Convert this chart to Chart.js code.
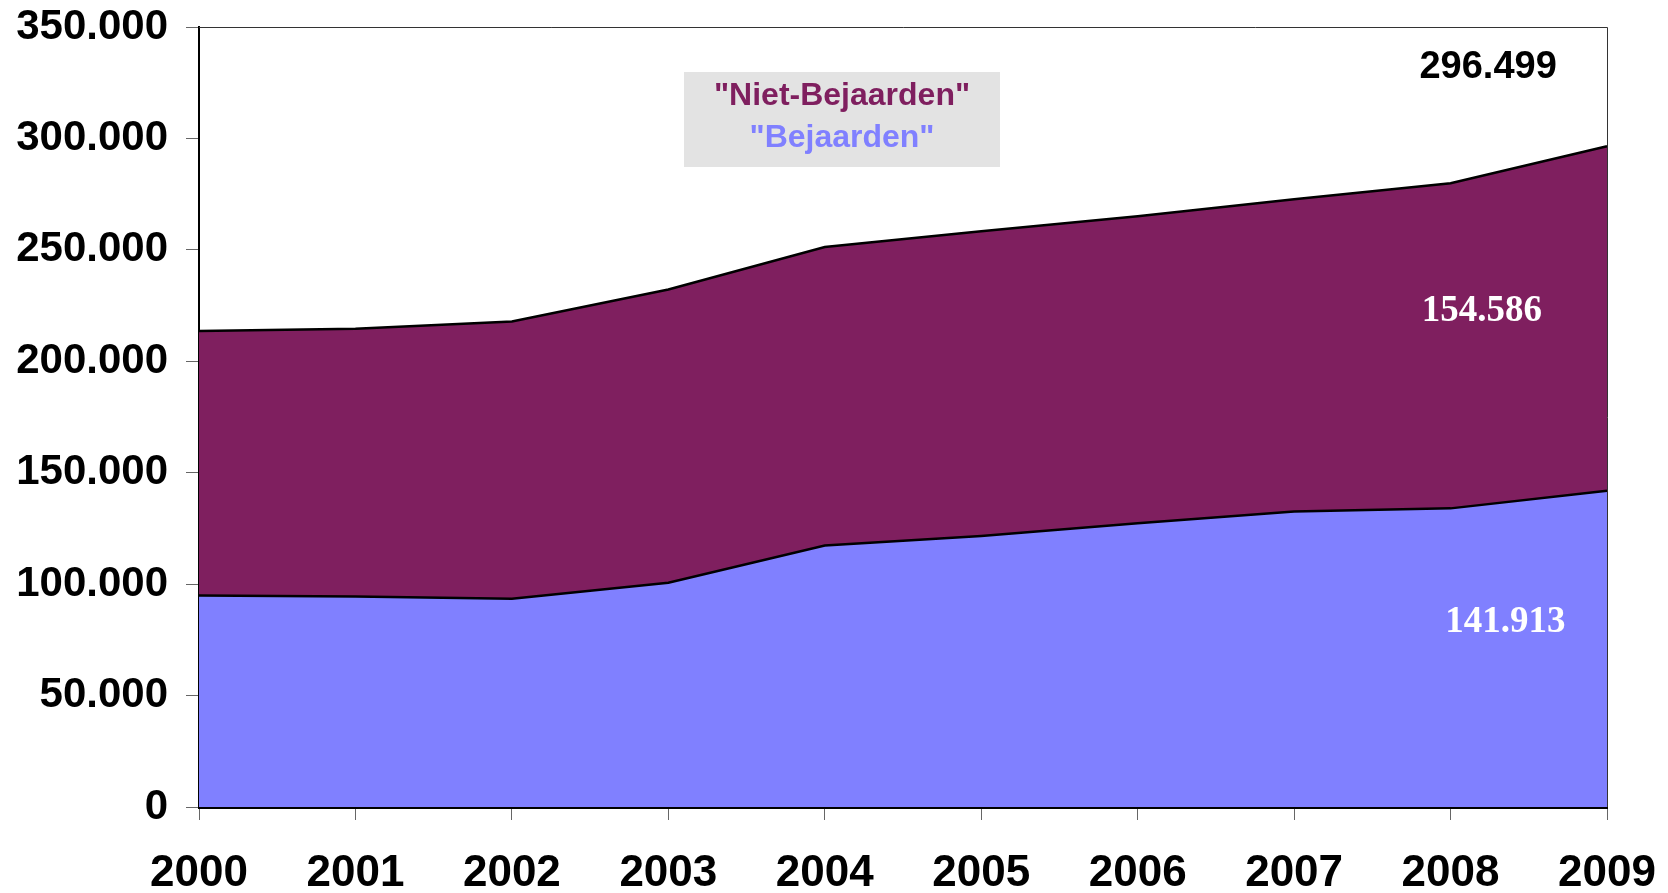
<!DOCTYPE html>
<html lang="nl">
<head>
    <meta charset="UTF-8">
    <title>Bejaarden en Niet-Bejaarden 2000-2009</title>
    <script src="https://cdn.jsdelivr.net/npm/chart.js"></script>
    <style>
        body {
            margin: 0;
            padding: 0;
            background: #ffffff;
            overflow: hidden;
        }
        #wrap {
            width: 1668px;
            height: 893px;
        }
    </style>
</head>
<body>
    <div id="wrap">
        <canvas id="areaChart" width="1668" height="893"></canvas>
    </div>
    <script>
    // data
    const years = ['2000', '2001', '2002', '2003', '2004', '2005', '2006', '2007', '2008', '2009'];
    const bejaarden = [94900, 94400, 93500, 100600, 117300, 121600, 127300, 132600, 134000, 141913];
    const nietBejaarden = [118700, 120200, 124400, 131600, 134000, 136800, 137800, 140100, 145900, 154586];
    const seriesNames = ['"Bejaarden"', '"Niet-Bejaarden"'];

    const blue = '#8080FF';
    const purple = '#7F1F5F';
    const sans = 'Arial, "Liberation Sans", sans-serif';
    const serif = '"Times New Roman", "Liberation Serif", serif';

    // 350000 -> "350.000"
    function dutch(v) {
        return String(Math.round(v)).replace(/\B(?=(\d{3})+(?!\d))/g, '.');
    }

    const last = years.length - 1;
    const total = bejaarden[last] + nietBejaarden[last];

    // labels at the right end, positioned in data units
    const endLabels = [
        { text: dutch(total), x: 8.24, y: 332000, color: '#000', font: 'bold 38px ' + sans },
        { text: dutch(nietBejaarden[last]), x: 8.2, y: 222500, color: '#fff', font: 'bold 37px ' + serif },
        { text: dutch(bejaarden[last]), x: 8.35, y: 82600, color: '#fff', font: 'bold 37px ' + serif }
    ];

    const framePlugin = {
        id: 'frame',
        afterDraw(chart) {
            const c = chart.ctx;
            const a = chart.chartArea;
            c.save();
            c.strokeStyle = '#333';
            c.lineWidth = 1;
            c.beginPath();
            c.moveTo(a.left, a.top + 0.5);
            c.lineTo(a.right + 0.5, a.top + 0.5);
            c.lineTo(a.right + 0.5, a.bottom);
            c.stroke();

            // value labels
            c.textAlign = 'center';
            c.textBaseline = 'middle';
            endLabels.forEach(l => {
                c.font = l.font;
                c.fillStyle = l.color;
                c.fillText(l.text, chart.scales.x.getPixelForValue(l.x), chart.scales.y.getPixelForValue(l.y));
            });

            // legend box
            c.fillStyle = '#E3E3E3';
            c.fillRect(684, 72, 316, 95);
            c.font = 'bold 32px ' + sans;
            c.fillStyle = purple;
            c.fillText(seriesNames[1], 842, 96);
            c.fillStyle = blue;
            c.fillText(seriesNames[0], 842, 138);
            c.restore();
        }
    };

    new Chart(document.getElementById('areaChart').getContext('2d'), {
        type: 'line',
        data: {
            labels: years,
            datasets: [{
                label: seriesNames[0],
                data: bejaarden,
                backgroundColor: blue,
                borderColor: '#000',
                borderWidth: 2.5,
                fill: 'origin',
                pointRadius: 0,
                tension: 0
            }, {
                label: seriesNames[1],
                data: nietBejaarden,
                backgroundColor: purple,
                borderColor: '#000',
                borderWidth: 2.5,
                fill: '-1',
                pointRadius: 0,
                tension: 0
            }]
        },
        options: {
            responsive: false,
            animation: false,
            layout: { padding: { top: 27, right: 61, left: 0, bottom: 0 } },
            plugins: {
                legend: { display: false },
                tooltip: { enabled: false }
            },
            scales: {
                x: {
                    afterFit(scale) {
                        scale.height = 86;
                        scale.paddingLeft = 0;
                        scale.paddingRight = 0;
                    },
                    border: { display: true, color: '#000', width: 3 },
                    grid: { drawOnChartArea: false, drawTicks: true, tickLength: 13, color: '#666' },
                    ticks: {
                        color: '#000',
                        padding: 27,
                        maxRotation: 0,
                        font: { family: sans, size: 44, weight: 'bold' }
                    }
                },
                y: {
                    stacked: true,
                    min: 0,
                    max: 350000,
                    afterFit(scale) {
                        scale.width = 199;
                        scale.paddingTop = 0;
                        scale.paddingBottom = 0;
                    },
                    border: { display: true, color: '#000', width: 2 },
                    grid: { drawOnChartArea: false, drawTicks: true, tickLength: 13, color: '#666' },
                    ticks: {
                        stepSize: 50000,
                        color: '#000',
                        padding: 18,
                        font: { family: sans, size: 42, weight: 'bold' },
                        callback: v => dutch(v)
                    }
                }
            }
        },
        plugins: [framePlugin]
    });
    </script>
</body>
</html>
